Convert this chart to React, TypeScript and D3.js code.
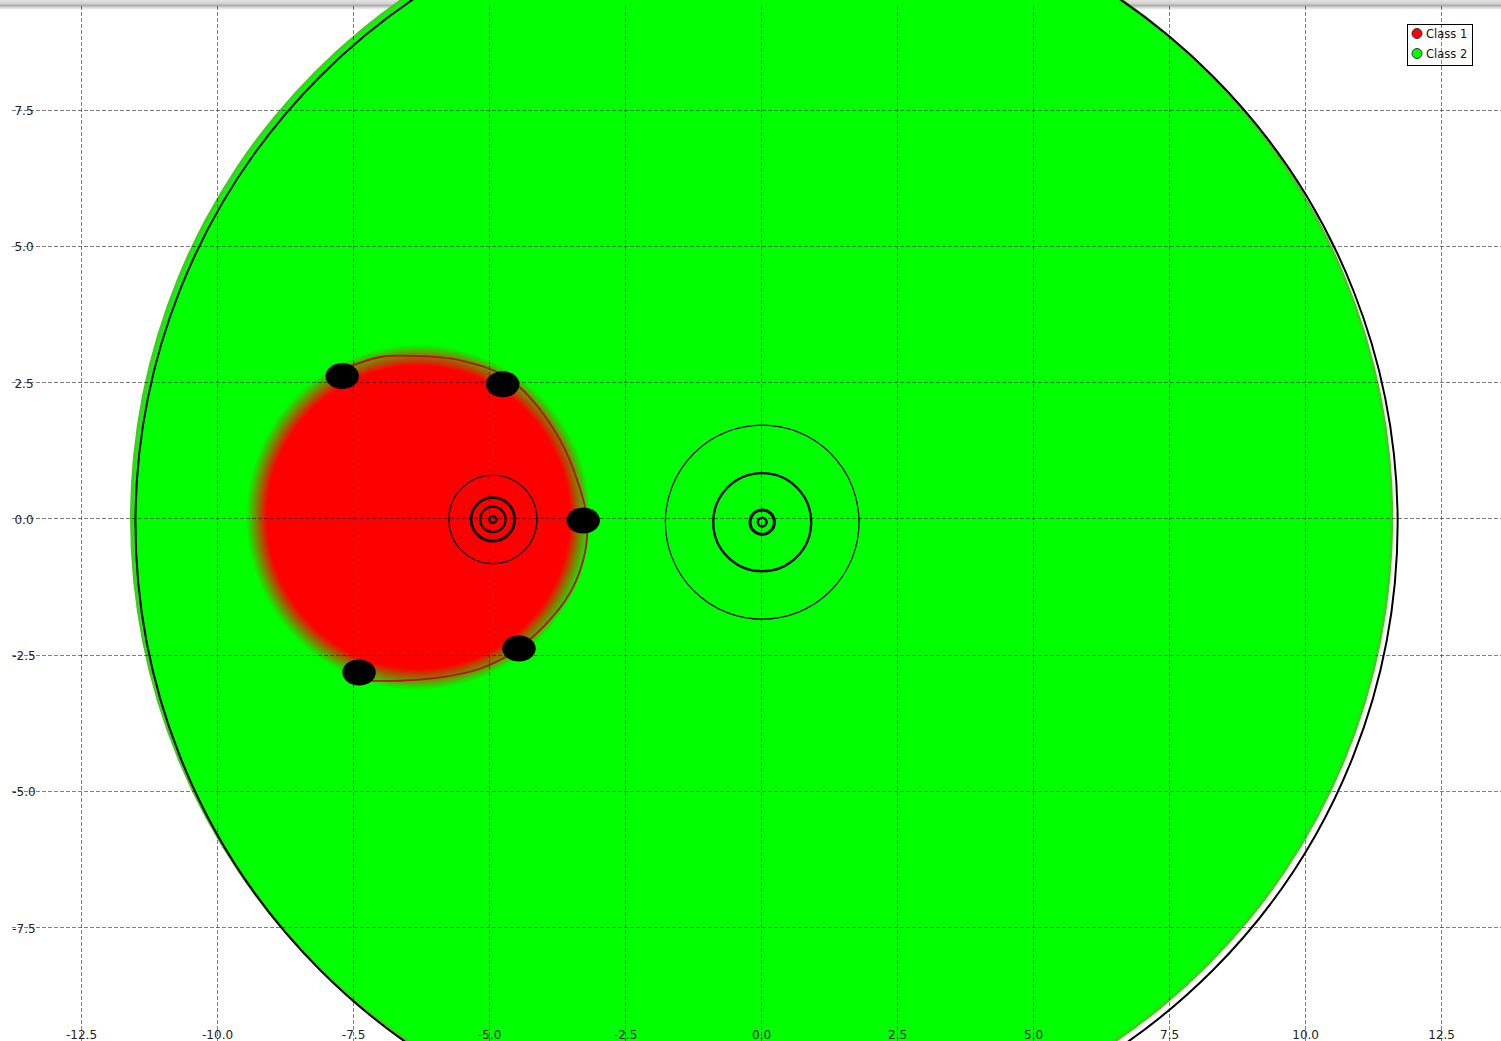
import React from "react";
import * as d3 from "d3";

const W = 1501;
const H = 1041;

// axis ticks
const xTicks = [-12.5, -10, -7.5, -5, -2.5, 0, 2.5, 5, 7.5, 10, 12.5];
const yTicks = [7.5, 5, 2.5, 0, -2.5, -5, -7.5];

// legend
const classNames = ["Class 1", "Class 2"];
const classColors = ["#ff0000", "#00ff00"];

// class 2 region (center x, center y, radius)
const class2Region = [0.01, 0, 11.61];
// outer decision boundary (center x, center y, radius)
const outerBoundary = [0.1, -0.09, 11.6];
// class 1 region (center x, center y, solid radius, outer radius)
const class1Region = [-6.3, 0.02, 2.78, 3.17];

// class 1 boundary curve
const class1Boundary: [number, number][] = [
  [-7.68, 2.74],
  [-7.0, 2.96],
  [-6.4, 2.98],
  [-5.53, 2.9],
  [-4.74, 2.63],
  [-4.25, 2.22],
  [-3.69, 1.43],
  [-3.38, 0.7],
  [-3.2, -0.02],
  [-3.27, -0.77],
  [-3.6, -1.51],
  [-4.43, -2.37],
  [-5.17, -2.76],
  [-5.9, -2.92],
  [-6.64, -2.98],
  [-7.19, -2.98],
];

// support vectors
const supportVectors: [number, number][] = [
  [-7.7, 2.61],
  [-4.75, 2.46],
  [-3.27, -0.04],
  [-4.45, -2.39],
  [-7.39, -2.83],
];

// contour groups
const contourCenters: [number, number][] = [
  [-4.93, -0.02],
  [0.02, -0.07],
];
const contourRadiiLeft = [0.81, 0.4, 0.233, 0.065];
const contourRadiiRight = [1.78, 0.9, 0.224, 0.08];
const contourRadii = [contourRadiiLeft, contourRadiiRight];
const contourWidthsLeft = [1.2, 2.7, 2.2, 2.2];
const contourWidthsRight = [1.2, 2.3, 3, 2.5];
const contourWidths = [contourWidthsLeft, contourWidthsRight];

const fmt = (v: number) => v.toFixed(1);

export default function App() {
  const x = d3.scaleLinear().domain([-13.99, 13.6]).range([0, W]);
  const y = d3.scaleLinear().domain([9.51, -9.59]).range([0, H]);
  const kx = (r: number) => Math.abs(x(r) - x(0));
  const ky = (r: number) => Math.abs(y(r) - y(0));
  const snap = (v: number) => Math.round(v) + 0.5;

  const line = d3
    .line<[number, number]>()
    .x((d) => x(d[0]))
    .y((d) => y(d[1]))
    .curve(d3.curveCatmullRom);

  const font = "'DejaVu Sans', Verdana, sans-serif";
  const c1 = class1Region;
  const c2 = class2Region;
  const ob = outerBoundary;

  return (
    <svg
      width={W}
      height={H}
      style={{ position: "absolute", left: 0, top: 0, background: "#fff" }}
    >
      <defs>
        <linearGradient id="topbar" x1="0" y1="0" x2="0" y2="1">
          <stop offset="0" stopColor="#e2e2e2" />
          <stop offset="0.35" stopColor="#d2d2d2" />
          <stop offset="0.55" stopColor="#acacac" />
          <stop offset="0.75" stopColor="#d8d8d8" />
          <stop offset="1" stopColor="#ffffff" />
        </linearGradient>
        <radialGradient id="g2" cx="0.5" cy="0.5" r="0.5">
          <stop offset="0" stopColor="#00ff00" />
          <stop offset="0.993" stopColor="#00ff00" />
          <stop offset="1" stopColor="#58b828" />
        </radialGradient>
        <radialGradient id="g1" cx="0.5" cy="0.5" r="0.5">
          <stop offset="0" stopColor="#ff0000" />
          <stop offset={c1[2] / c1[3]} stopColor="#ff0000" />
          <stop offset="1" stopColor="#00ff00" />
        </radialGradient>
      </defs>

      <rect x={0} y={0} width={W} height={10} fill="url(#topbar)" />

      {/* class 2 region */}
      <ellipse
        cx={x(c2[0])}
        cy={y(c2[1])}
        rx={kx(c2[2])}
        ry={ky(c2[2])}
        fill="url(#g2)"
      />
      {/* class 1 region */}
      <ellipse
        cx={x(c1[0])}
        cy={y(c1[1])}
        rx={kx(c1[3])}
        ry={ky(c1[3])}
        fill="url(#g1)"
      />

      {/* legend */}
      <g>
        <rect x={1407.5} y={24.5} width={65} height={41} fill="#fff" stroke="#000" strokeWidth={1} />
        {classNames.map((n, i) => (
          <g key={n}>
            <circle
              cx={1417}
              cy={33.5 + i * 20}
              r={5}
              fill={classColors[i]}
              stroke="#333"
              strokeWidth={1}
            />
            <text x={1426} y={38 + i * 20} fontSize={11.5} fontFamily={font} fill="#111">
              {n}
            </text>
          </g>
        ))}
      </g>

      {/* grid */}
      <g stroke="rgba(0,0,0,0.5)" strokeWidth={1} strokeDasharray="4,2" fill="none">
        {xTicks.map((t) => (
          <line key={"vx" + t} x1={snap(x(t))} x2={snap(x(t))} y1={6} y2={H} />
        ))}
        {yTicks.map((t) => (
          <line key={"hy" + t} x1={12} x2={W} y1={snap(y(t))} y2={snap(y(t))} />
        ))}
      </g>

      {/* outer boundary */}
      <ellipse
        cx={x(ob[0])}
        cy={y(ob[1])}
        rx={kx(ob[2])}
        ry={ky(ob[2])}
        fill="none"
        stroke="#000"
        strokeWidth={2}
      />

      {/* class 1 boundary */}
      <path d={line(class1Boundary) || ""} fill="none" stroke="#b8101c" strokeWidth={1.8} />

      {/* contours */}
      {contourCenters.map((c, gi) =>
        contourRadii[gi].map((r, ri) => (
          <ellipse
            key={"c" + gi + "-" + ri}
            cx={x(c[0])}
            cy={y(c[1])}
            rx={kx(r)}
            ry={ky(r)}
            fill="none"
            stroke="#000"
            strokeWidth={contourWidths[gi][ri]}
          />
        ))
      )}

      {/* support vectors */}
      {supportVectors.map((p, i) => (
        <ellipse key={"sv" + i} cx={x(p[0])} cy={y(p[1])} rx={16.7} ry={13} fill="#000" />
      ))}

      {/* axis labels */}
      <g fontFamily={font} fontSize={12} fill="#222">
        {xTicks.map((t) => (
          <text key={"lx" + t} x={x(t) + 0.5} y={1038.5} textAnchor="middle">
            {fmt(t)}
          </text>
        ))}
        {yTicks.map((t) => (
          <text key={"ly" + t} x={24} y={y(t) + 5.5} textAnchor="middle">
            {fmt(t)}
          </text>
        ))}
      </g>
    </svg>
  );
}
